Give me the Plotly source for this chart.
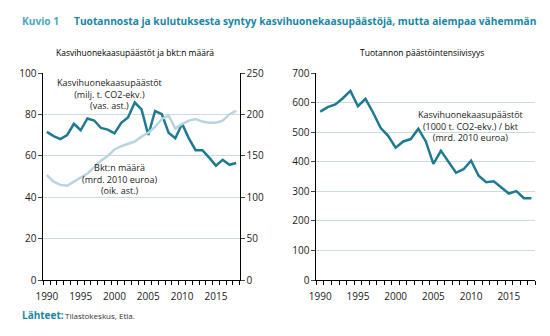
import plotly.graph_objects as go

years = list(range(1990, 2019))
emissions = [71.6, 69.6, 68.1, 70.1, 75.5, 72.4, 78.1, 77.1, 73.5, 72.7, 70.9, 76.0, 78.6, 85.8,
             82.5, 70.1, 81.7, 80.2, 71.2, 68.5, 75.5, 68.5, 62.8, 62.8, 59.2, 55.3, 58.1, 55.7, 56.6]
gdp = [126.8, 119.0, 115.0, 114.0, 119.0, 123.8, 128.7, 136.4, 144.2, 150.0, 157.8, 161.7, 164.7, 167.4,
       173.3, 178.0, 185.0, 194.6, 198.5, 183.0, 188.8, 192.6, 194.6, 191.5, 190.0, 190.0, 192.6, 200.4, 204.3]
intensity = [570, 585, 594, 615, 640, 588, 613, 567, 515, 488, 448, 469, 477, 512, 469, 393, 437, 399,
             363, 375, 404, 353, 331, 334, 314, 293, 301, 277, 277]

major_ticks = [1990, 1995, 2000, 2005, 2010, 2015]
minor_ticks = [y - 0.5 for y in years] + [years[-1] + 0.5]

W, H = 550, 336
def px(x):
    return x / W
def py(y):
    return 1 - y / H

DARK = "#1f7a91"
LIGHT = "#b6d5e0"
GRID = "#c9dbe3"
TXT = "#1a1a1a"
FONT = "Open Sans"

fig = go.Figure()
fig.add_trace(go.Scatter(x=years, y=gdp, mode="lines", line=dict(color=LIGHT, width=2.5),
                         xaxis="x", yaxis="y2", showlegend=False))
fig.add_trace(go.Scatter(x=years, y=emissions, mode="lines", line=dict(color=DARK, width=2.5),
                         xaxis="x", yaxis="y", showlegend=False))
fig.add_trace(go.Scatter(x=years, y=intensity, mode="lines", line=dict(color=DARK, width=2.5),
                         xaxis="x2", yaxis="y3", showlegend=False))

ydom = [py(285), py(69)]
xcommon = dict(range=[1989.5, 2018.5], tickvals=major_ticks, ticks="outside", ticklen=7,
               tickcolor="rgba(0,0,0,0)", showgrid=False,
               showline=True, linecolor="#000", linewidth=1, zeroline=False,
               tickfont=dict(size=10, color=TXT, family=FONT),
               minor=dict(tickvals=minor_ticks, ticks="outside", ticklen=4, tickcolor="#000", showgrid=False))
yfont = dict(size=10, color=TXT, family=FONT)
fig.update_layout(
    width=W, height=H, margin=dict(l=0, r=0, t=0, b=0),
    paper_bgcolor="white", plot_bgcolor="white",
    font=dict(family=FONT, color=TXT),
    xaxis=dict(domain=[px(36), px(235)], anchor="y", **xcommon),
    xaxis2=dict(domain=[px(313), px(535)], anchor="y3", **xcommon),
    yaxis=dict(domain=ydom, range=[0, 100], dtick=20, anchor="x", showgrid=True, gridcolor=GRID,
               showline=True, linecolor="#000", ticks="outside", ticklen=4, zeroline=False,
               tickfont=yfont),
    yaxis2=dict(domain=ydom, range=[0, 250], dtick=50, anchor="x", overlaying="y", side="right",
                showgrid=False, showline=True, linecolor="#000", ticks="outside", ticklen=4, zeroline=False,
                tickfont=yfont),
    yaxis3=dict(domain=ydom, range=[0, 700], dtick=100, anchor="x2", showgrid=True, gridcolor=GRID,
                showline=True, linecolor="#000", ticks="outside", ticklen=4, zeroline=False,
                tickfont=yfont),
)

def ann(text, x, y, size=9, color=TXT, xanchor="center", bold=False):
    if bold:
        text = "<b>" + text + "</b>"
    fig.add_annotation(text=text, x=px(x), y=py(y), xref="paper", yref="paper", showarrow=False,
                       xanchor=xanchor, yanchor="middle", align="center",
                       font=dict(size=size, color=color, family=FONT))

ann("Kuvio 1", 12, 15, size=10.2, color="#4aa7bd", xanchor="left", bold=True)
ann("Tuotannosta ja kulutuksesta syntyy kasvihuonekaasupäästöjä, mutta aiempaa vähemmän", 65, 15,
    size=10.2, color="#1a86a3", xanchor="left", bold=True)
ann("Kasvihuonekaasupäästöt ja bkt:n määrä", 129, 48, size=8.5, color="#000")
ann("Tuotannon päästöintensiivisyys", 420, 48, size=8.5, color="#000")

ann("Kasvihuonekaasupäästöt<br>(milj. t. CO2-ekv.)<br>(vas. ast.)", 103, 91, size=9)
ann("Bkt:n määrä<br>(mrd. 2010 euroa)<br>(oik. ast.)", 113, 179.5, size=9)
ann("Kasvihuonekaasupäästöt<br>(1000 t. CO2-ekv.) / bkt<br>(mrd. 2010 euroa)", 469, 124, size=9)

fig.add_annotation(text="<b>Lähteet:</b>", x=px(12), y=py(321), xref="paper", yref="paper", showarrow=False,
                   xanchor="left", yanchor="middle", font=dict(size=10, color="#1a86a3", family=FONT))
ann("Tilastokeskus, Etla.", 56, 321.5, size=8, color="#333333", xanchor="left")

fig.write_html("out.html")
